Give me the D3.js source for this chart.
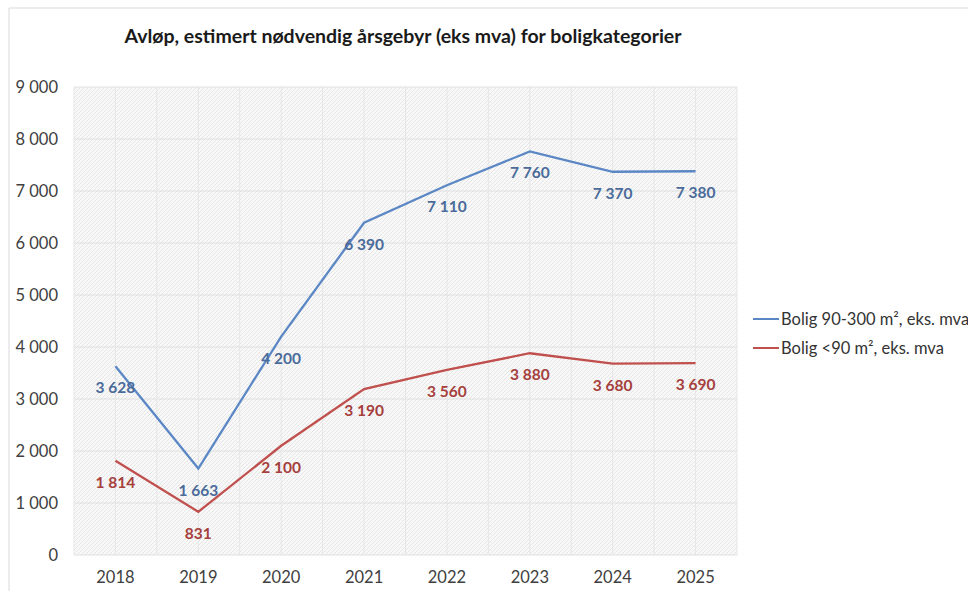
<!DOCTYPE html>
<html><head><meta charset="utf-8">
<script src="https://cdn.jsdelivr.net/npm/d3@7"></script>
<style>body{margin:0;background:#fff;} svg{display:block;font-family:Lato,"Open Sans",sans-serif;}</style>
</head><body>
<script>
const years = ["2018","2019","2020","2021","2022","2023","2024","2025"];
const bigValues = [3628,1663,4200,6390,7110,7760,7370,7380];
const smallValues = [1814,831,2100,3190,3560,3880,3680,3690];
const seriesNames = ["Bolig 90-300 m², eks. mva","Bolig <90 m², eks. mva"];
const yTicks = [0,1000,2000,3000,4000,5000,6000,7000,8000,9000];
const title = "Avløp, estimert nødvendig årsgebyr (eks mva) for boligkategorier";

const W=968,H=591;
const m={left:74,right:968-737,top:87,bottom:591-555};
const svg=d3.select("body").append("svg").attr("width",W).attr("height",H);
const defs=svg.append("defs");
const pat=defs.append("pattern").attr("id","hatch").attr("patternUnits","userSpaceOnUse").attr("width",4).attr("height",4);
pat.append("rect").attr("width",4).attr("height",4).attr("fill","#f8f8f8");
pat.append("path").attr("d","M-1,1 l2,-2 M0,4 l4,-4 M3,5 l2,-2").attr("stroke","#e6e6e6").attr("stroke-width",1);

// outer border
svg.append("path").attr("d","M9,"+H+" V8 H"+W).attr("fill","none").attr("stroke","#d9d9d9").attr("stroke-width",1);

const x=d3.scaleBand().domain(years).range([m.left,W-m.right]);
const y=d3.scaleLinear().domain([0,9000]).range([H-m.bottom,m.top]);
const cx=d=>x(d)+x.bandwidth()/2;

svg.append("rect").attr("x",m.left).attr("y",m.top).attr("width",x.range()[1]-m.left).attr("height",y(0)-m.top).attr("fill","url(#hatch)");

// gridlines
const g=svg.append("g");
g.selectAll(".h").data(yTicks).join("line").attr("x1",m.left).attr("x2",x.range()[1]).attr("y1",d=>y(d)).attr("y2",d=>y(d)).attr("stroke","#e0e0e0").attr("stroke-width",1);
const vx=[];
years.forEach(d=>{vx.push(x(d));vx.push(cx(d));});vx.push(x.range()[1]);
g.selectAll(".v").data(vx).join("line").attr("x1",d=>d).attr("x2",d=>d).attr("y1",m.top).attr("y2",y(0)).attr("stroke","#e6e6e6").attr("stroke-width",1);

// axes labels
const yAxis=d3.axisLeft(y).tickValues(yTicks).tickSize(0).tickPadding(16).tickFormat(d=>d3.format(",")(d).replace(/,/g," "));
const ya=svg.append("g").attr("transform",`translate(${m.left},0)`).call(yAxis);
ya.select(".domain").remove();
ya.selectAll("text").attr("font-size",16.5).attr("fill","#404040").attr("font-family","Lato");
const xAxis=d3.axisBottom(x).tickSize(0).tickPadding(16);
const xa=svg.append("g").attr("transform",`translate(0,${y(0)})`).call(xAxis);
xa.select(".domain").remove();
xa.selectAll("text").attr("font-size",16.5).attr("fill","#404040").attr("font-family","Lato");

// title
svg.append("text").attr("x",403).attr("y",43).attr("text-anchor","middle").attr("font-size",19.5).attr("font-weight","bold").attr("fill","#1a1a1a").text(title);

const series=[
 {name:seriesNames[0],vals:bigValues,color:"#5b87c5",lab:"#4a6b9a"},
 {name:seriesNames[1],vals:smallValues,color:"#c0504d",lab:"#a5403d"}
];
const line=d3.line().x((d,i)=>cx(years[i])).y(d=>y(d));
const fmt=d=>d3.format(",")(d).replace(/,/g," ");
series.forEach(s=>{
  svg.append("path").datum(s.vals).attr("d",line).attr("fill","none").attr("stroke",s.color).attr("stroke-width",2.3);
  svg.append("g").selectAll("text").data(s.vals).join("text")
    .attr("x",(d,i)=>cx(years[i])).attr("y",d=>y(d)+27).attr("text-anchor","middle")
    .attr("font-size",15.5).attr("font-weight","bold").attr("fill",s.lab).text(fmt);
});

// legend
const lg=svg.append("g");
series.forEach((s,i)=>{
  const yy=319+i*29;
  lg.append("line").attr("x1",753).attr("x2",779).attr("y1",yy).attr("y2",yy).attr("stroke",s.color).attr("stroke-width",2);
  lg.append("text").attr("x",781).attr("y",yy+5.5).attr("font-size",16.5).attr("fill","#333").text(s.name);
});
</script>
</body></html>
